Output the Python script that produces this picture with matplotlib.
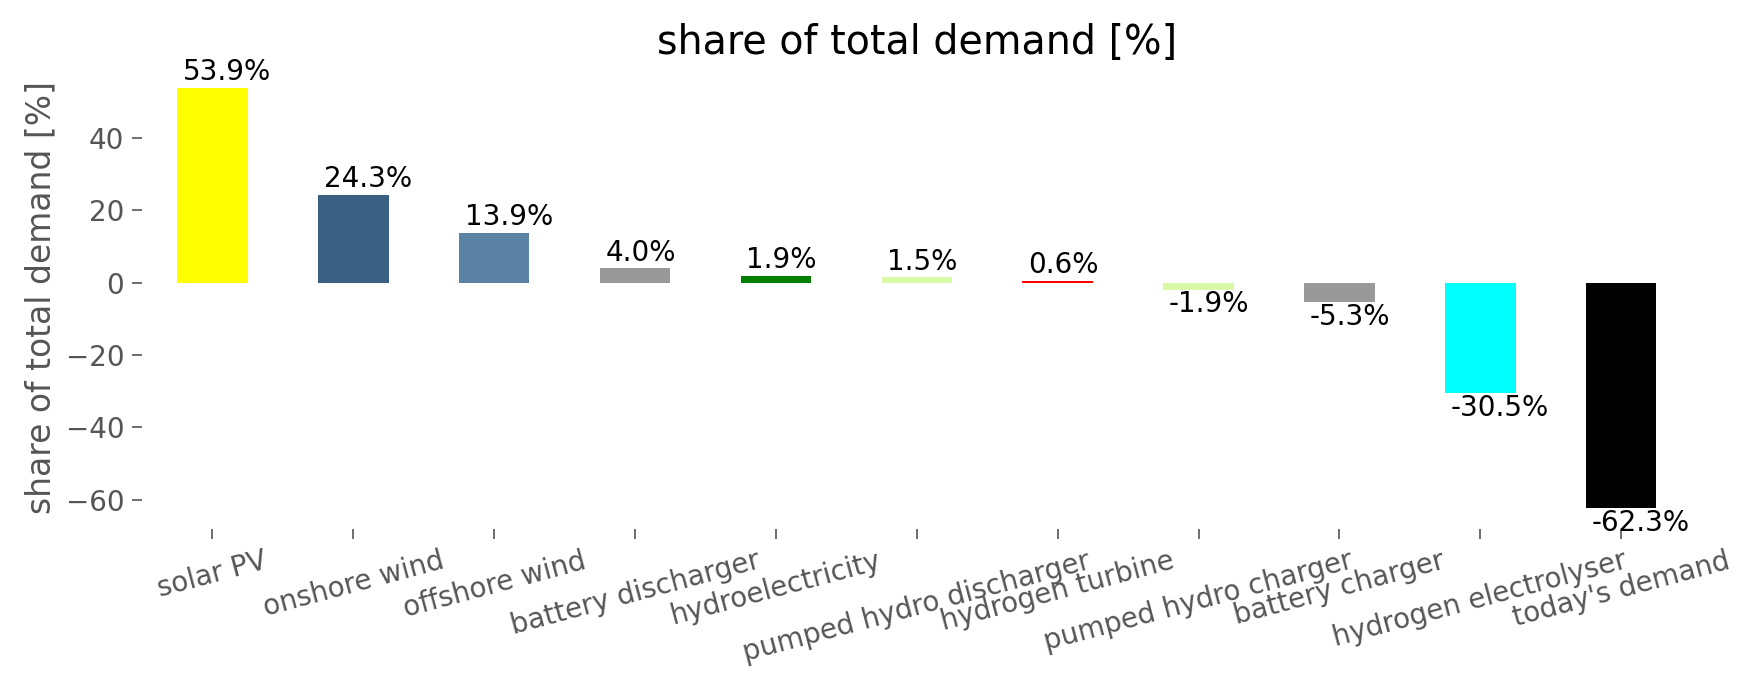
import matplotlib
matplotlib.use("Agg")
import matplotlib.pyplot as plt

categories = ["solar PV", "onshore wind", "offshore wind", "battery discharger",
              "hydroelectricity", "pumped hydro discharger", "hydrogen turbine",
              "pumped hydro charger", "battery charger", "hydrogen electrolyser",
              "today's demand"]
values = [53.9, 24.3, 13.9, 4.0, 1.9, 1.5, 0.6, -1.9, -5.3, -30.5, -62.3]
colors = ["#ffff00", "#3b6182", "#5b82a3", "#999999", "#008000", "#d9f9a8",
          "#ff0000", "#d9f9a8", "#999999", "#00ffff", "#000000"]
yticks = [-60, -40, -20, 0, 20, 40]

fig = plt.figure(figsize=(1753 / 150, 689 / 150), dpi=150)
ax = fig.add_axes([0.081, 0.232, 0.884, 0.671])
ax.set_facecolor("white")

x = list(range(len(categories)))
bars = ax.bar(x, values, width=0.5, color=colors)
ax.set_xlim(-0.5, len(categories) - 0.5)
ax.margins(y=0.05)

for b, v in zip(bars, values):
    if v >= 0:
        ax.text(b.get_x() + 0.04, v + 0.4, f"{v:.1f}%", ha="left", va="bottom",
                fontsize=13.3, color="black")
    else:
        ax.text(b.get_x() + 0.04, v - 0.2, f"{v:.1f}%", ha="left", va="top",
                fontsize=13.3, color="black")

for s in ax.spines.values():
    s.set_visible(False)

ax.set_xticks(x)
ax.set_xticklabels(categories, rotation=15, ha="center", fontsize=13.3, color="#555555")
ax.set_yticks(yticks)
ax.set_yticklabels([f"{t}".replace("-", "\u2212") for t in yticks], fontsize=13.3, color="#555555")
ax.tick_params(axis="both", colors="#555555", length=5)
ax.set_ylabel("share of total demand [%]", fontsize=15.8, color="#555555")
ax.set_title("share of total demand [%]", fontsize=19, color="black")

fig.savefig("out.png", dpi=150, facecolor="white")
